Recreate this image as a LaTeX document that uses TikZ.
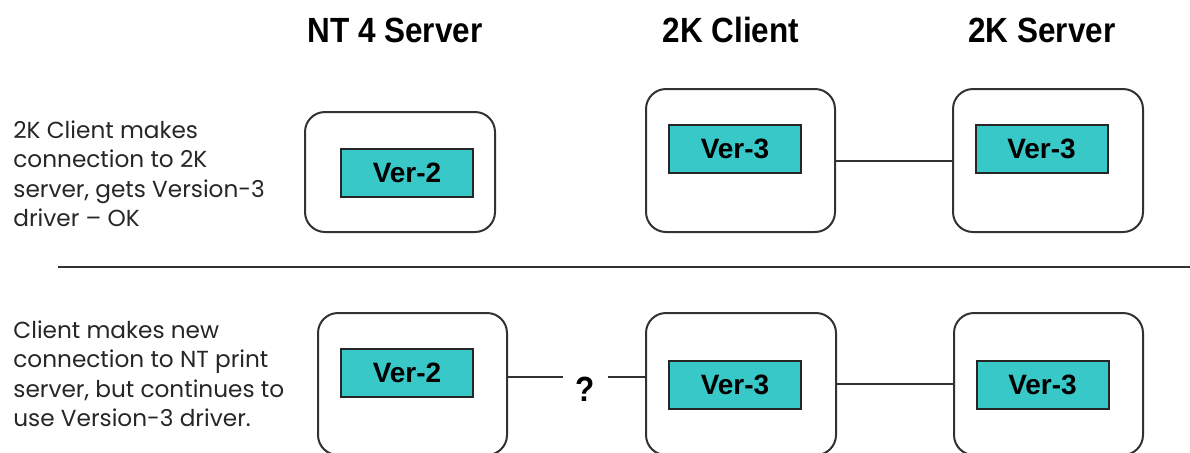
\documentclass[tikz,border=0pt]{standalone}
\usepackage{fontspec}
\setmainfont{Liberation Sans}
\newfontfamily\notefont{Poppins}
\newfontfamily\headfont[FakeStretch=0.9]{Liberation Sans}
\usetikzlibrary{positioning}
\definecolor{vercyan}{RGB}{56,200,200}
\definecolor{boxgray}{RGB}{50,50,50}

\begin{document}
\begin{tikzpicture}[x=0.5pt, y=-0.5pt, every node/.style={inner sep=0pt},
    machine/.style={draw=boxgray, line width=1pt, rounded corners=10pt},
    driver/.style={draw=black!85, line width=1pt, fill=vercyan, minimum width=66pt, minimum height=24pt, font=\bfseries\fontsize{14}{16}\selectfont},
    head/.style={font=\headfont\bfseries\fontsize{17.5}{20}\selectfont, anchor=base},
    note/.style={font=\notefont\fontsize{11.6}{14.75}\selectfont, align=left, anchor=west, text=black!85},
    link/.style={draw=boxgray, line width=1pt}]
    \useasboundingbox (0,0) rectangle (1190,452);

    % Column heads
    \node[head] (ntHead) at (395,42) {NT 4 Server};
    \node[head] (clHead) at (731,42) {2K Client};
    \node[head] (svHead) at (1042,42) {2K Server};

    % Row notes
    \node[note] (noteA) at (13,174) {2K Client makes\\connection to 2K\\server, gets Version-3\\driver – OK};
    \node[note] (noteB) at (13,374) {Client makes new\\connection to NT print\\server, but continues to\\use Version-3 driver.};

    % Top row
    \node[machine, minimum width=95pt, minimum height=60pt] (ntA) at (400,172) {};
    \node[driver] (ntAver) at (407,173) {Ver-2};
    \node[machine, minimum width=94.5pt, minimum height=71.5pt] (clA) at (740.5,160.5) {};
    \node[driver] (clAver) at (735,149) {Ver-3};
    \node[machine, minimum width=95pt, minimum height=71.5pt] (svA) at (1048,160.5) {};
    \node[driver] (svAver) at (1041.5,149) {Ver-3};

    % Separator
    \coordinate (sepL) at (58,267);
    \coordinate (sepR) at (1190,267);
    \draw[link] (sepL) -- (sepR);

    % Bottom row
    \node[machine, minimum width=94.5pt, minimum height=71pt] (ntB) at (412.5,384) {};
    \node[driver] (ntBver) at (407,373) {Ver-2};
    \node[machine, minimum width=95pt, minimum height=71pt] (clB) at (741,384) {};
    \node[driver] (clBver) at (735,385) {Ver-3};
    \node[machine, minimum width=94.5pt, minimum height=71pt] (svB) at (1048.5,384) {};
    \node[driver] (svBver) at (1042.5,385) {Ver-3};
    \node[head] (ask) at (585,401) {?};
    \coordinate (askL) at (563,377);
    \coordinate (askR) at (608,377);

    % Links
    \draw[link] (clA.east) -- (svA.west);
    \draw[link] (ntB.east |- askL) -- (askL);
    \draw[link] (askR) -- (clB.west |- askR);
    \draw[link] (clB.east) -- (svB.west);
\end{tikzpicture}
\end{document}
